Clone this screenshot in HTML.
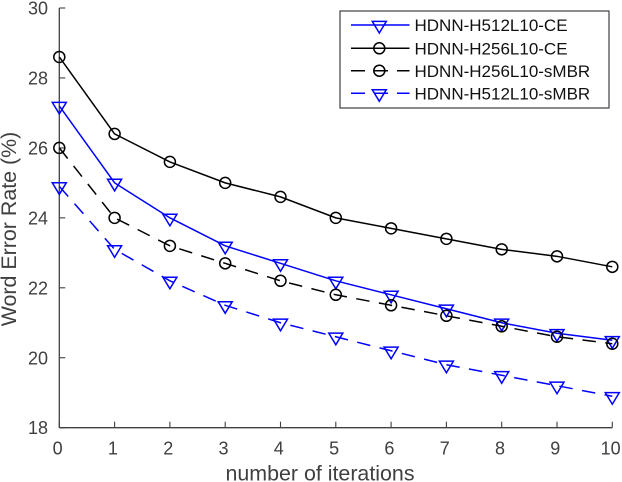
<!DOCTYPE html>
<html>
<head>
<meta charset="utf-8">
<style>
html,body{margin:0;padding:0;background:#fff;}
svg{display:block;font-family:"Liberation Sans",Arial,sans-serif;}
</style>
</head>
<body>
<svg id="chart" width="622" height="482" viewBox="0 0 622 482" xmlns="http://www.w3.org/2000/svg"></svg>
<script>
const xTicks = [0,1,2,3,4,5,6,7,8,9,10];
const yTicks = [18,20,22,24,26,28,30];
const iterations = [0,1,2,3,4,5,6,7,8,9,10];
const h512Ce = [27.2,25,24,23.2,22.7,22.2,21.8,21.4,21,20.7,20.5];
const h256Ce = [28.6,26.4,25.6,25,24.6,24,23.7,23.4,23.1,22.9,22.6];
const h256Smbr = [26,24,23.2,22.7,22.2,21.8,21.5,21.2,20.9,20.6,20.4];
const h512Smbr = [24.9,23.1,22.2,21.5,21,20.6,20.2,19.8,19.5,19.2,18.9];
const seriesLabels = ['HDNN-H512L10-CE','HDNN-H256L10-CE','HDNN-H256L10-sMBR','HDNN-H512L10-sMBR'];

const svg = document.getElementById('chart');
const NS = 'http://www.w3.org/2000/svg';
const axisColor = '#404040';
const BLUE = '#0000ff';
const BLACK = '#000000';
const DASH = '13.5 9.5';

function sx(v){ return 59.3 + (v - 0) * (612.3 - 59.3) / 10; }
function sy(v){ return 427.7 - (v - 18) * (427.7 - 8) / 12; }

function make(tag, attrs, parent){
  const el = document.createElementNS(NS, tag);
  for (const k in attrs) el.setAttribute(k, attrs[k]);
  (parent || svg).appendChild(el);
  return el;
}

function triangle(parent, cx, cy, color){
  const pts = (cx-7)+','+(cy-3.6)+' '+(cx+7)+','+(cy-3.6)+' '+cx+','+(cy+8);
  const m = make('polygon', {points: pts, fill: 'none', stroke: color, 'stroke-width': 1.5}, parent);
  
  
}

function circle(parent, cx, cy, color){
  const m = make('circle', {cx: cx, cy: cy, r: 5.5, fill: 'none', stroke: color, 'stroke-width': 1.5}, parent);
  
  
}

/* axes */
const axes = make('g', {});



const yAxis = make('line', {x1: sx(0), x2: sx(0), y1: sy(30), y2: sy(18), stroke: axisColor, 'stroke-width': 1.3}, axes);



const xAxis = make('line', {x1: sx(0), x2: sx(10), y1: sy(18), y2: sy(18), stroke: axisColor, 'stroke-width': 1.3}, axes);



xTicks.forEach(function(t){
  const tick = make('line', {x1: sx(t), x2: sx(t), y1: sy(18), y2: sy(18) - 6, stroke: axisColor, 'stroke-width': 1.1}, axes);
  
  
  const label = make('text', {x: sx(t) - 1.7, y: 454.3, 'text-anchor': 'middle', 'font-size': 18, fill: axisColor}, axes);
  label.textContent = t;
  
  
});

yTicks.forEach(function(t){
  const tick = make('line', {x1: sx(0), x2: sx(0) + 6, y1: sy(t), y2: sy(t), stroke: axisColor, 'stroke-width': 1.1}, axes);
  
  
  const label = make('text', {x: 48, y: sy(t) + 6.5, 'text-anchor': 'end', 'font-size': 18, fill: axisColor}, axes);
  label.textContent = t;
  
  
});

const xTitle = make('text', {x: 320, y: 480.5, 'text-anchor': 'middle', 'font-size': 21.4, fill: axisColor}, axes);
xTitle.textContent = 'number of iterations';



const yTitle = make('text', {transform: 'translate(16,229) rotate(-90)', 'text-anchor': 'middle', 'font-size': 21.4, fill: axisColor}, axes);
yTitle.textContent = 'Word Error Rate (%)';



/* series */
function drawSeries(values, color, dash, marker, name){
  const g = make('g', {});
  
  
  const pts = values.map(function(v, i){ return sx(iterations[i]) + ',' + sy(v); }).join(' ');
  const line = make('polyline', {points: pts, fill: 'none', stroke: color, 'stroke-width': 1.5}, g);
  if (dash) line.setAttribute('stroke-dasharray', dash);
  
  
  values.forEach(function(v, i){ marker(g, sx(iterations[i]), sy(v), color); });
}

drawSeries(h512Ce, BLUE, null, triangle, 'series-h512l10-ce');
drawSeries(h512Smbr, BLUE, DASH, triangle, 'series-h512l10-smbr');
drawSeries(h256Ce, BLACK, null, circle, 'series-h256l10-ce');
drawSeries(h256Smbr, BLACK, DASH, circle, 'series-h256l10-smbr');

/* legend */
const legend = make('g', {});



const legendBox = make('rect', {x: 340, y: 11, width: 269, height: 97, fill: '#fff', stroke: axisColor, 'stroke-width': 1.2}, legend);



const legendRows = [
  {color: BLUE, dashed: false, marker: triangle, y: 25},
  {color: BLACK, dashed: false, marker: circle, y: 48.3},
  {color: BLACK, dashed: true, marker: circle, y: 70.7},
  {color: BLUE, dashed: true, marker: triangle, y: 93.3}
];
legendRows.forEach(function(r, i){
  const row = make('g', {}, legend);
  
  
  const sample = make('line', {x1: 351, x2: 409.5, y1: r.y, y2: r.y, stroke: r.color, 'stroke-width': 1.5}, row);
  if (r.dashed) sample.setAttribute('stroke-dasharray', '14 9 14 9 12.5');
  
  
  r.marker(row, 379.3, r.y, r.color);
  const label = make('text', {x: 414.5, y: r.y + 6.2, 'font-size': 17, fill: '#111111'}, row);
  label.textContent = seriesLabels[i];
  
  
});
</script>
</body>
</html>
